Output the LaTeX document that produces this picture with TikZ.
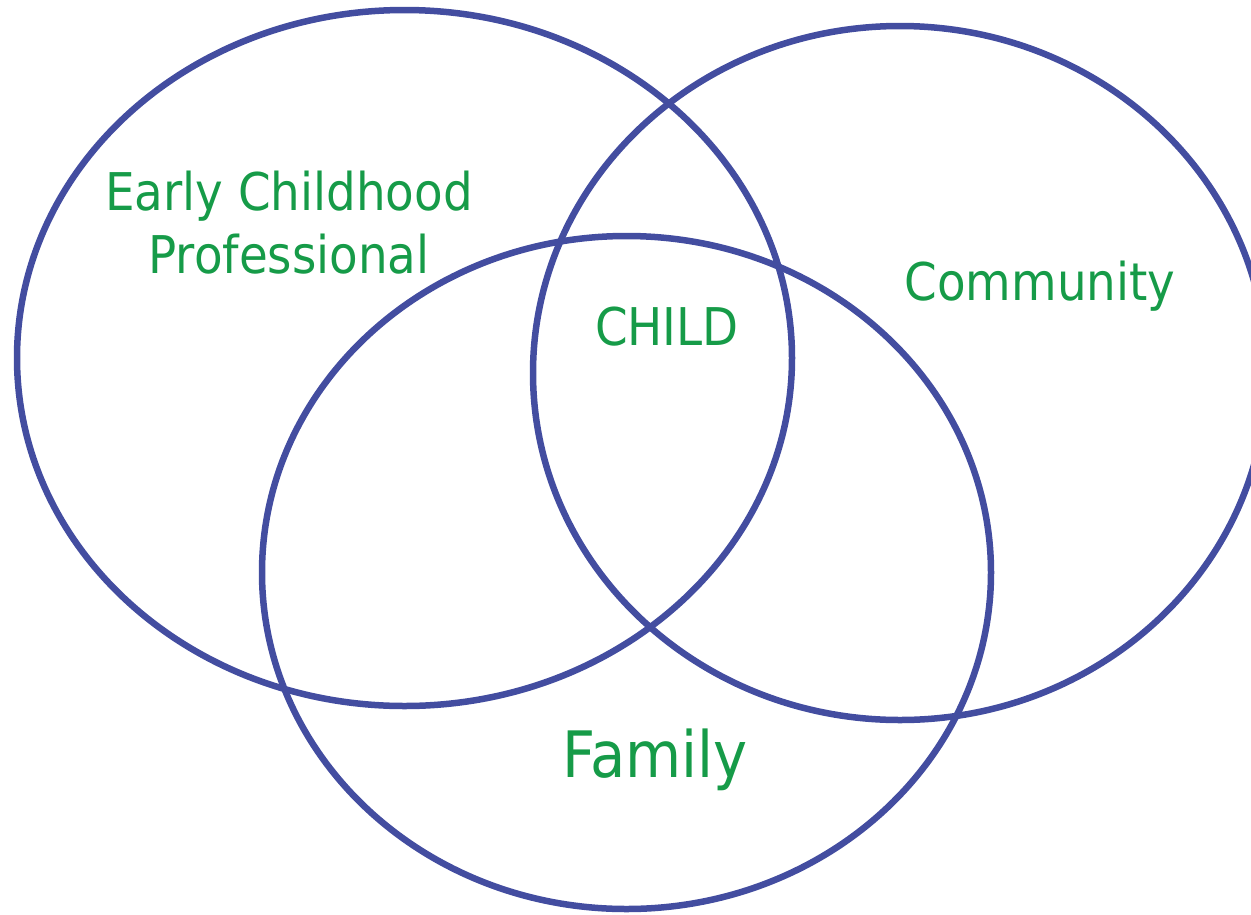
\documentclass[tikz,border=0pt]{standalone}
\usepackage{fontspec}
\newfontfamily\vennfont[FakeStretch=0.9]{DejaVu Sans}
\definecolor{ringblue}{RGB}{67,77,160}
\definecolor{labelgreen}{RGB}{22,155,72}
\tikzset{
  ring/.style={draw=ringblue, line width=6.5pt},
  lbl/.style={text=labelgreen, font=\vennfont\fontsize{52}{63}\selectfont, align=center, inner sep=0pt},
}
\begin{document}
\begin{tikzpicture}[x=1pt,y=-1pt]
\useasboundingbox (0,0) rectangle (1251,914);
\draw[ring] (404.5,358) ellipse [x radius=387.5, y radius=348];
\draw[ring] (900,373) ellipse [x radius=367, y radius=347];
\draw[ring] (626.5,572.5) ellipse [x radius=364.5, y radius=336.5];
\node[lbl, anchor=base] (ecp) at (289,273) {Early Childhood\\Professional};
\node[lbl, anchor=base] (community) at (1040,300) {Community};
\node[lbl, anchor=base] (child) at (667,345) {CHILD};
\node[lbl, anchor=base, font=\vennfont\fontsize{64}{76}\selectfont] (family) at (655,777) {Family};
\end{tikzpicture}
\end{document}
